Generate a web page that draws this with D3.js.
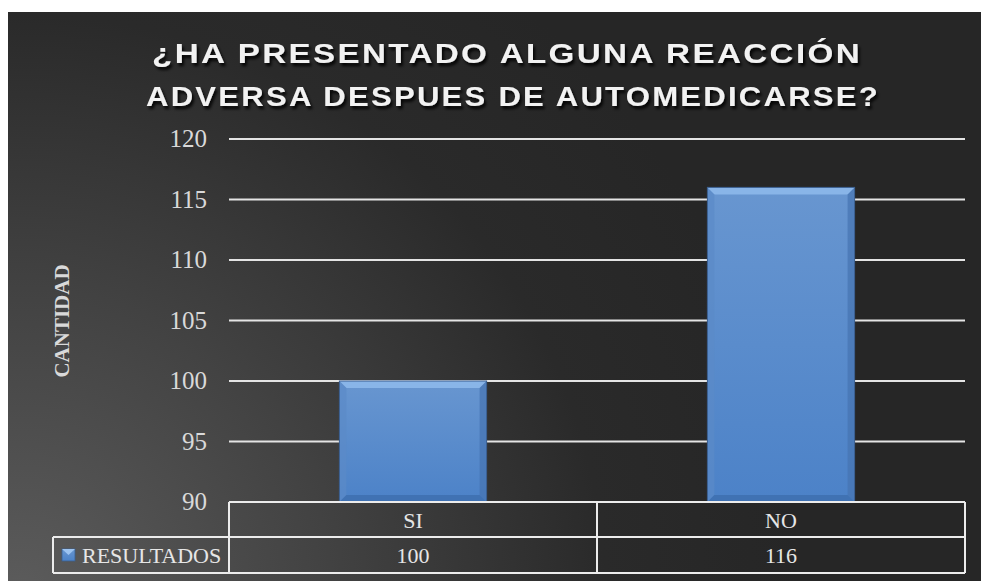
<!DOCTYPE html>
<html><head><meta charset="utf-8">
<script src="https://cdn.jsdelivr.net/npm/d3@7"></script>
<style>body{margin:0;background:#fff;}svg{display:block;}</style>
</head><body>
<script>
const categories = ["SI", "NO"];
const values = [100, 116];
const seriesName = "RESULTADOS";
const yTicks = [90, 95, 100, 105, 110, 115, 120];
const titleLines = ["¿HA PRESENTADO ALGUNA REACCIÓN", "ADVERSA DESPUES DE AUTOMEDICARSE?"];
const yTitle = "CANTIDAD";

const W = 981, H = 581;
const svg = d3.select("body").append("svg").attr("width", W).attr("height", H);
const defs = svg.append("defs");
const serif = "'Liberation Serif', 'Times New Roman', serif";

const bg = defs.append("radialGradient").attr("id","bg").attr("gradientUnits","userSpaceOnUse")
  .attr("cx", 20).attr("cy", 600).attr("r", 780);
bg.append("stop").attr("offset","0%").attr("stop-color","#5c5c5c");
bg.append("stop").attr("offset","40%").attr("stop-color","#424242");
bg.append("stop").attr("offset","75%").attr("stop-color","#2a2a2a");
bg.append("stop").attr("offset","100%").attr("stop-color","#262626");

const bar = defs.append("linearGradient").attr("id","bar").attr("x1",0).attr("y1",0).attr("x2",0).attr("y2",1);
bar.append("stop").attr("offset","0%").attr("stop-color","#6896d0");
bar.append("stop").attr("offset","100%").attr("stop-color","#4c82c8");

const sh = defs.append("filter").attr("id","sh").attr("x","-10%").attr("y","-30%").attr("width","120%").attr("height","160%");
sh.append("feDropShadow").attr("dx",2).attr("dy",3).attr("stdDeviation",1.5).attr("flood-color","#000").attr("flood-opacity",0.9);

svg.append("rect").attr("x",8).attr("y",12).attr("width",W-8).attr("height",H-12).attr("fill","url(#bg)");

const x0 = 229, x1 = 965, yTop = 139, yBot = 502;
const x = d3.scaleBand().domain(categories).range([x0, x1]).paddingInner(0.6).paddingOuter(0.3);
const band = d3.scaleBand().domain(categories).range([x0, x1]);
const y = d3.scaleLinear().domain([90, 120]).range([yBot, yTop]);

// gridlines
svg.append("g").selectAll("line").data(yTicks.filter(t => t > 90)).join("line")
  .attr("x1", x0).attr("x2", x1).attr("y1", d => y(d)).attr("y2", d => y(d))
  .attr("stroke","#e4e4e4").attr("stroke-width",2);

// y axis labels
const yAxis = d3.axisLeft(y).tickValues(yTicks).tickSize(0).tickPadding(22);
const ga = svg.append("g").attr("transform",`translate(${x0},0)`).call(yAxis);
ga.attr("font-family", null).attr("font-size", null);
ga.select(".domain").remove();
ga.selectAll("text").attr("fill","#d9d9d9").style("font-family",serif).style("font-size","25px").attr("dy","0.3em");

// bars
const bars = svg.append("g").selectAll("g").data(categories).join("g");
bars.each(function(c, i){
  const g = d3.select(this);
  const bx = x(c), bw = x.bandwidth(), by = y(values[i]), bh = y(90) - y(values[i]);
  const b = 7;
  g.append("rect").attr("x",bx).attr("y",by).attr("width",bw).attr("height",bh).attr("fill","url(#bar)");
  g.append("polygon").attr("points",[[bx,by],[bx+bw,by],[bx+bw-b,by+b],[bx+b,by+b]].join(" ")).attr("fill","#8db8ea").attr("opacity",0.9);
  g.append("polygon").attr("points",[[bx,by],[bx+b,by+b],[bx+b,by+bh-b],[bx,by+bh]].join(" ")).attr("fill","#5b8ac8").attr("opacity",0.7);
  g.append("polygon").attr("points",[[bx+bw,by],[bx+bw,by+bh],[bx+bw-b,by+bh-b],[bx+bw-b,by+b]].join(" ")).attr("fill","#4673b0").attr("opacity",0.7);
  g.append("polygon").attr("points",[[bx,by+bh],[bx+bw,by+bh],[bx+bw-b,by+bh-b],[bx+b,by+bh-b]].join(" ")).attr("fill","#3d6eae").attr("opacity",0.8);
  g.append("rect").attr("x",bx).attr("y",by).attr("width",bw).attr("height",bh).attr("fill","none").attr("stroke","#3b5f8f").attr("stroke-width",1);
});

// data table
const r1 = yBot, r2 = 537, r3 = 573, legX = 53;
const tbl = svg.append("g").attr("stroke","#ececec").attr("stroke-width",2).attr("fill","none");
tbl.append("line").attr("x1",x0).attr("x2",x1).attr("y1",r1).attr("y2",r1);
tbl.append("line").attr("x1",legX).attr("x2",x1).attr("y1",r2).attr("y2",r2);
tbl.append("line").attr("x1",legX).attr("x2",x1).attr("y1",r3).attr("y2",r3);
tbl.append("line").attr("x1",legX).attr("x2",legX).attr("y1",r2).attr("y2",r3);
const vx = [x0, ...categories.slice(1).map(c => band(c)), x1];
tbl.selectAll("line.v").data(vx).join("line").attr("class","v")
  .attr("x1", d => d).attr("x2", d => d).attr("y1", r1).attr("y2", r3);

function st(sel){ return sel.style("font-family",serif).style("font-size","22px").attr("fill","#e6e6e6"); }
st(svg.append("g").selectAll("text").data(categories).join("text")
  .attr("x", d => band(d) + band.bandwidth()/2).attr("y", (r1+r2)/2 + 8).attr("text-anchor","middle").text(d => d));
st(svg.append("g").selectAll("text").data(values).join("text")
  .attr("x", (d,i) => band(categories[i]) + band.bandwidth()/2).attr("y", (r2+r3)/2 + 8).attr("text-anchor","middle").text(d => d));
st(svg.append("text").attr("x", 82).attr("y", (r2+r3)/2 + 8).text(seriesName));
svg.append("rect").attr("x",62).attr("y",549).attr("width",13).attr("height",12).attr("fill","url(#bar)").attr("stroke","#3b5f8f").attr("stroke-width",0.8);
svg.append("polygon").attr("points",[[62,549],[75,549],[68.5,555]].join(" ")).attr("fill","#9cc3f0");

// y title
svg.append("text").attr("transform","translate(69,321) rotate(-90)").attr("text-anchor","middle")
  .style("font-family",serif).attr("font-weight","bold").style("font-size","21px").attr("fill","#d9d9d9").text(yTitle);

// title
const tStart = [152, 146], tLen = [710, 734];
svg.append("g").attr("filter","url(#sh)").selectAll("text").data(titleLines).join("text")
  .attr("x", (d,i) => tStart[i]).attr("y", (d,i) => 63 + i*43)
  .attr("textLength", (d,i) => tLen[i]).attr("lengthAdjust","spacingAndGlyphs")
  .attr("letter-spacing", 2)
  .style("font-family","'Liberation Sans', Arial, sans-serif").attr("font-weight","bold").style("font-size","28px")
  .attr("fill","#f2f2f2").text(d => d);
</script>
</body></html>
